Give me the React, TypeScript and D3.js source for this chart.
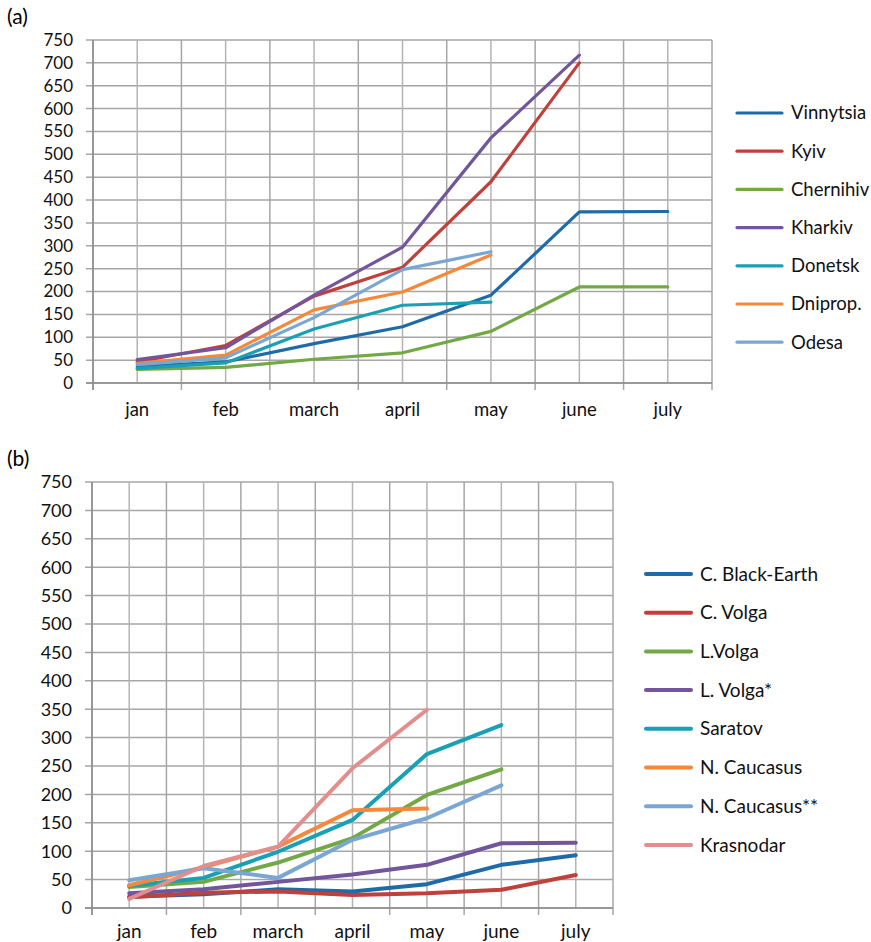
import React from 'react';
import { scaleBand, scaleLinear, line, range } from 'd3';

// month categories shared by both panels
const months = ['jan', 'feb', 'march', 'april', 'may', 'june', 'july'];
const yTicks = range(0, 751, 50);

// panel (a) - Ukraine regions
const regionsA = ['Vinnytsia', 'Kyiv', 'Chernihiv', 'Kharkiv', 'Donetsk', 'Dniprop.', 'Odesa'];
const vinnytsia = [36, 46, 86, 123, 192, 374, 375];
const kyiv = [46, 82, 190, 253, 440, 700];
const chernihiv = [30, 34, 52, 66, 113, 210, 210];
const kharkiv = [51, 77, 192, 297, 536, 717];
const donetsk = [32, 44, 118, 170, 177];
const dniprop = [43, 61, 160, 199, 280];
const odesa = [40, 55, 143, 248, 287];

// panel (b) - Russia regions
const regionsB = ['C. Black-Earth', 'C. Volga', 'L.Volga', 'L. Volga*', 'Saratov', 'N. Caucasus', 'N. Caucasus**', 'Krasnodar'];
const blackEarth = [20, 24, 33, 29, 42, 76, 93];
const cVolga = [19, 27, 29, 23, 26, 32, 58];
const lVolga = [37, 46, 80, 123, 199, 244];
const lVolgaStar = [26, 33, 46, 59, 76, 114, 115];
const saratov = [39, 53, 99, 155, 271, 322];
const nCaucasus = [40, 72, 108, 172, 175];
const nCaucasus2 = [49, 70, 53, 120, 158, 216];
const krasnodar = [16, 74, 108, 246, 349];

const colors = ['#1f6aa8', '#c0403c', '#72a845', '#72559b', '#1aa0b5', '#f5883a', '#7aa6d4', '#e38d8c'];

const FONT = 'Lato, "Liberation Sans", sans-serif';

function Panel({ tag, names, series, box, legend, lineWidth, fontSize, textSize, xLabelY }) {
  const x = scaleBand().domain(months).range([box.left, box.right]).padding(0);
  const y = scaleLinear().domain([0, 750]).range([box.bottom, box.top]);
  const bw = x.bandwidth();
  const cx = (m) => x(m) + bw / 2;

  const gen = line()
    .x((d) => cx(months[d[0]]))
    .y((d) => y(d[1]));

  const edges = months.map((m) => x(m)).concat([box.right]);
  const centers = months.map(cx);

  return (
    <g>
      <text x={7} y={box.top - 16} fontSize={21} fontFamily={FONT}>{tag}</text>
      {/* horizontal grid */}
      {yTicks.map((t) => (
        <line key={'h' + t} x1={box.left - 7} x2={box.right} y1={y(t)} y2={y(t)} stroke="#a6a6a6" strokeWidth={1.5} />
      ))}
      {/* vertical grid: band edges and centers */}
      {centers.map((c, i) => (
        <line key={'c' + i} x1={c} x2={c} y1={box.top} y2={box.bottom} stroke="#b4b4b4" strokeWidth={1.5} />
      ))}
      {edges.map((e, i) => (
        <line key={'e' + i} x1={e} x2={e} y1={box.top} y2={box.bottom + 7} stroke="#a6a6a6" strokeWidth={1.5} />
      ))}
      <line x1={box.left} x2={box.left} y1={box.top} y2={box.bottom + 7} stroke="#8c8c8c" strokeWidth={1.5} />
      <line x1={box.left - 7} x2={box.right} y1={box.bottom} y2={box.bottom} stroke="#8c8c8c" strokeWidth={1.5} />
      {yTicks.map((t) => (
        <text key={'yl' + t} x={box.left - 20} y={y(t)} dy="0.35em" textAnchor="end" fontSize={fontSize} fontFamily={FONT} fill="#111">{t}</text>
      ))}
      {months.map((m) => (
        <text key={'xl' + m} x={cx(m)} y={xLabelY} textAnchor="middle" fontSize={textSize} fontFamily={FONT} fill="#111">{m}</text>
      ))}
      {series.map((s, i) => (
        <path key={'s' + i} d={gen(s.map((v, j) => [j, v]))} fill="none" stroke={colors[i]} strokeWidth={lineWidth} strokeLinejoin="round" strokeLinecap="round" />
      ))}
      {names.map((n, i) => (
        <g key={'lg' + n} transform={`translate(${legend.x},${legend.y + i * legend.step})`}>
          <line x1={0} x2={45} y1={0} y2={0} stroke={colors[i]} strokeWidth={lineWidth} strokeLinecap="round" />
          <text x={54} y={0} dy="0.35em" fontSize={textSize} fontFamily={FONT} fill="#111">{n}</text>
        </g>
      ))}
    </g>
  );
}

export default function App() {
  return (
    <svg width={871} height={942} style={{ position: 'absolute', left: 0, top: 0, display: 'block' }}>
      <rect width={871} height={942} fill="#fff" />
      <Panel
        tag="(a)"
        names={regionsA}
        series={[vinnytsia, kyiv, chernihiv, kharkiv, donetsk, dniprop, odesa]}
        box={{ left: 93, right: 712, top: 40, bottom: 383 }}
        legend={{ x: 737, y: 113, step: 38.2 }}
        lineWidth={3.2}
        fontSize={17}
        textSize={18.5}
        xLabelY={416}
      />
      <Panel
        tag="(b)"
        names={regionsB}
        series={[blackEarth, cVolga, lVolga, lVolgaStar, saratov, nCaucasus, nCaucasus2, krasnodar]}
        box={{ left: 92, right: 613, top: 482, bottom: 908 }}
        legend={{ x: 646, y: 574, step: 38.7 }}
        lineWidth={4}
        fontSize={18}
        textSize={19}
        xLabelY={938}
      />
    </svg>
  );
}
